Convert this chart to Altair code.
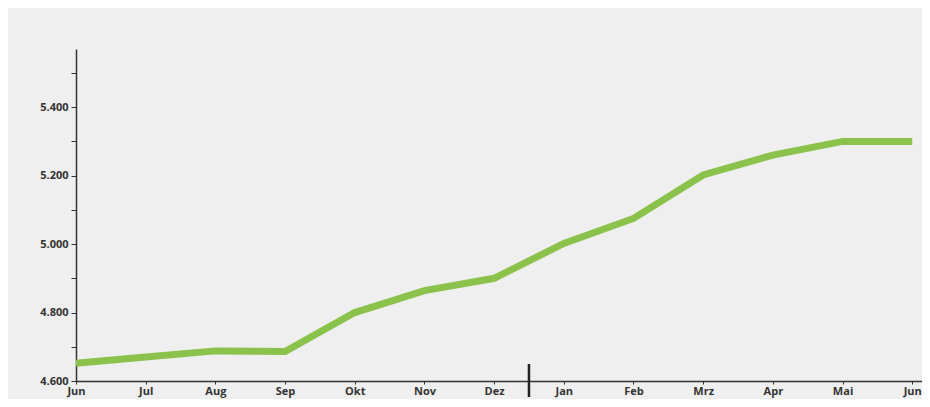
import altair as alt
import pandas as pd

months = ["Jun", "Jul", "Aug", "Sep", "Okt", "Nov", "Dez", "Jan", "Feb", "Mrz", "Apr", "Mai", "Jun"]
values = [4652, 4670, 4688, 4686, 4800, 4864, 4900, 5002, 5075, 5202, 5260, 5300, 5300]
y_ticks = [4600, 4700, 4800, 4900, 5000, 5100, 5200, 5300, 5400, 5500]
year_break = 6.5

df = pd.DataFrame({"idx": list(range(len(months))), "month": months, "value": values})

month_arr = "[" + ",".join("'%s'" % m for m in months) + "]"

x_scale = alt.Scale(domain=[0, 12.14], nice=False, zero=False)
y_scale = alt.Scale(domain=[4600, 5570], nice=False, zero=False)

line = alt.Chart(df).mark_line(color="#8bc24c", strokeWidth=7, strokeJoin="miter").encode(
    x=alt.X("idx:Q", scale=x_scale, title=None,
            axis=alt.Axis(values=list(range(len(months))), labelExpr=month_arr + "[datum.value]",
                          grid=False, domainColor="#333333", domainWidth=1.5,
                          tickColor="#333333", tickSize=3, labelFont="Open Sans",
                          labelFontWeight="bold", labelFontSize=11, labelColor="#333333",
                          labelPadding=1, labelFlush=False)),
    y=alt.Y("value:Q", scale=y_scale, title=None,
            axis=alt.Axis(values=y_ticks,
                          labelExpr="datum.value % 200 == 0 ? replace(format(datum.value, ','), ',', '.') : ''",
                          grid=False, domainColor="#333333", domainWidth=1.5,
                          tickColor="#333333", tickSize=5, labelFont="Open Sans",
                          labelFontWeight="bold", labelFontSize=11, labelColor="#333333",
                          labelPadding=3, labelFlush=False)),
)

sep = alt.Chart(df).mark_rule(color="#222222", strokeWidth=2.5).encode(
    x=alt.X("bx:Q", scale=x_scale),
    y=alt.value(315),
    y2=alt.value(348),
).transform_filter("datum.idx == 0").transform_calculate(bx=str(year_break))

chart = alt.layer(line, sep).properties(
    width=846, height=332,
    autosize=alt.AutoSizeParams(type="none"),
    padding={"left": 68, "top": 41, "right": 0, "bottom": 18},
    background="#efefef",
).configure_view(stroke=None)

chart.save("out.html", embed_options={"renderer": "svg", "actions": False})
